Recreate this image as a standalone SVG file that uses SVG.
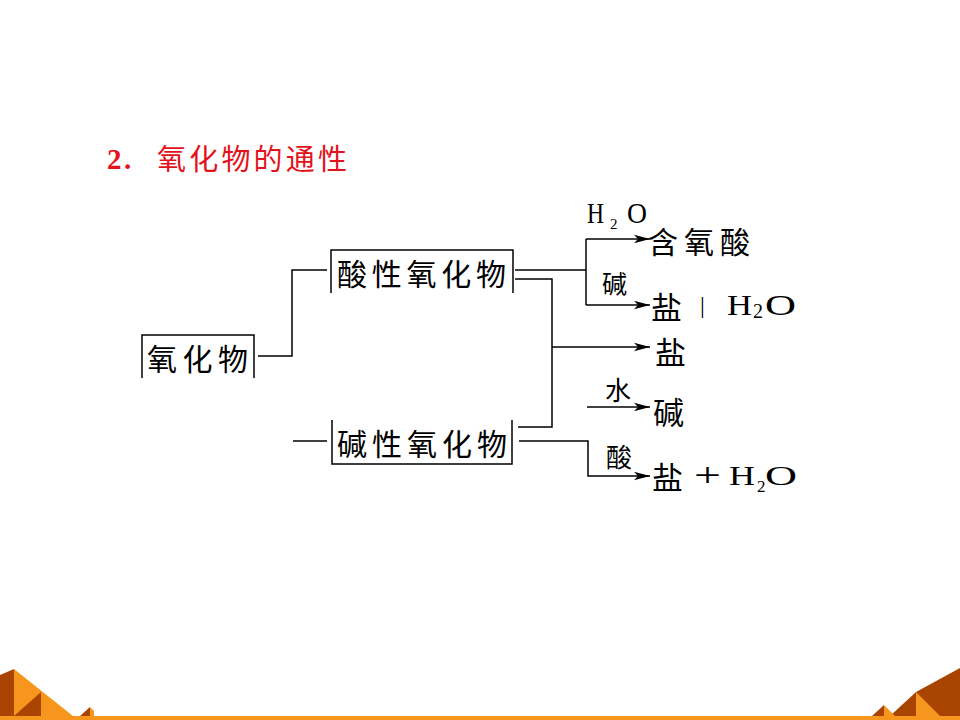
<svg xmlns="http://www.w3.org/2000/svg" width="960" height="720" viewBox="0 0 960 720">
<style>
.ln{fill:none;stroke:#000;stroke-width:1.5}
.cj{font-family:"Noto Sans CJK SC","Noto Sans CJK JP",sans-serif;fill:#000}
.tm{font-family:"Liberation Serif",serif;fill:#000}
</style>
<defs>
<marker id="ar" markerUnits="userSpaceOnUse" markerWidth="17" markerHeight="10" refX="16" refY="5" orient="auto">
<path d="M0,0.8 L16,5 L0,9.2 L4,5 z" fill="#000"/>
</marker>
</defs>
<rect width="960" height="720" fill="#fff"/>
<g id="title">
<text x="107" y="169" font-family="Liberation Serif,serif" font-weight="bold" font-size="29" fill="#E3121B">2</text>
<text x="124" y="169" font-family="Liberation Serif,serif" font-weight="bold" font-size="29" fill="#E3121B">.</text>
<text x="157" y="157" dominant-baseline="central" font-family="Noto Sans CJK SC,sans-serif" font-size="29" fill="#E3121B" textLength="190" lengthAdjust="spacing">氧化物的通性</text>
</g>
<g id="connectors">
<path class="ln" d="M258,356 H292 V270 H327"/>
<path class="ln" d="M293,441 H327"/>
<path class="ln" d="M515,270 H586"/>
<path class="ln" d="M586,239 V305"/>
<path class="ln" d="M586,239 H650" marker-end="url(#ar)"/>
<path class="ln" d="M586,305 H650" marker-end="url(#ar)"/>
<path class="ln" d="M515,279 H552 V427 H518"/>
<path class="ln" d="M552,347 H650" marker-end="url(#ar)"/>
<path class="ln" d="M587,407 H650" marker-end="url(#ar)"/>
<path class="ln" d="M519,441 H588 V476 H650" marker-end="url(#ar)"/>
</g>
<g id="n-oxide">
<path class="ln" d="M142,378 V335 H254 V378"/>
<text class="cj" x="147" y="357" dominant-baseline="central" font-size="30" textLength="101" lengthAdjust="spacing">氧化物</text>
</g>
<g id="n-acidic">
<path class="ln" d="M331,293 V250 H513 V293"/>
<text class="cj" x="337" y="272" dominant-baseline="central" font-size="30" textLength="169" lengthAdjust="spacing">酸性氧化物</text>
</g>
<g id="n-basic">
<path class="ln" d="M332,420 V464 H512 V420"/>
<text class="cj" x="337" y="442" dominant-baseline="central" font-size="30" textLength="170" lengthAdjust="spacing">碱性氧化物</text>
</g>
<g id="labels">
<text class="tm" x="587" y="223" font-size="29" textLength="17" lengthAdjust="spacingAndGlyphs">H</text>
<text class="tm" x="610" y="229" font-size="15">2</text>
<text class="tm" x="627" y="223" font-size="29" textLength="20" lengthAdjust="spacingAndGlyphs">O</text>
<text class="cj" x="602" y="282" dominant-baseline="central" font-size="25">碱</text>
<text class="cj" x="605" y="388" dominant-baseline="central" font-size="26">水</text>
<text class="cj" x="606" y="455" dominant-baseline="central" font-size="26">酸</text>
</g>
<g id="n-oxyacid">
<text class="cj" x="648" y="240" dominant-baseline="central" font-size="30" textLength="102" lengthAdjust="spacing">含氧酸</text>
</g>
<g id="n-salt-water-1">
<text class="cj" x="651" y="305" dominant-baseline="central" font-size="31">盐</text>
<text class="tm" x="700" y="313" font-size="24">|</text>
<text class="tm" x="727" y="315" font-size="29" textLength="25" lengthAdjust="spacingAndGlyphs">H</text>
<text class="tm" x="753" y="318" font-size="20">2</text>
<text class="tm" x="765" y="315" font-size="29" textLength="31" lengthAdjust="spacingAndGlyphs">O</text>
</g>
<g id="n-salt">
<text class="cj" x="655" y="350" dominant-baseline="central" font-size="31">盐</text>
</g>
<g id="n-base">
<text class="cj" x="653" y="410" dominant-baseline="central" font-size="31">碱</text>
</g>
<g id="n-salt-water-2">
<text class="cj" x="652" y="475" dominant-baseline="central" font-size="31">盐</text>
<text class="tm" x="694" y="486" font-size="34" textLength="27" lengthAdjust="spacingAndGlyphs">+</text>
<text class="tm" x="729" y="485" font-size="28" textLength="26" lengthAdjust="spacingAndGlyphs">H</text>
<text class="tm" x="757" y="492" font-size="17">2</text>
<text class="tm" x="765" y="485" font-size="28" textLength="32" lengthAdjust="spacingAndGlyphs">O</text>
</g>
<g id="decoration">
<rect x="0" y="716" width="960" height="4" fill="#F7961C"/>
<polygon points="14,669 73,716 14,716" fill="#F7961C"/>
<polygon points="0,675 14,669 14,716 0,716" fill="#A84400"/>
<polygon points="14,716 41,692 41,716" fill="#A84400"/>
<polygon points="80,716 90,707 90,716" fill="#A84400"/>
<polygon points="90,707 94,711 94,716 90,716" fill="#F7961C"/>
<polygon points="890,716 916,692 960,668 960,716" fill="#A84400"/>
<polygon points="916,692 940,716 916,716" fill="#F7961C"/>
<polygon points="872,716 884,705 884,716" fill="#A84400"/>
<polygon points="884,705 895,716 884,716" fill="#F7961C"/>
</g>
</svg>
